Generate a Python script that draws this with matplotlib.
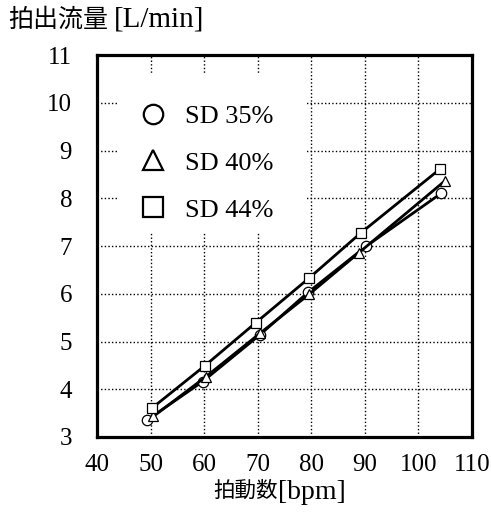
import matplotlib
matplotlib.use('Agg')
import matplotlib.pyplot as plt
from matplotlib.patches import Rectangle

# data
bpm_35 = [49.4, 59.7, 70.4, 79.4, 90.3, 104.2]
flow_35 = [3.36, 4.16, 5.14, 6.03, 7.00, 8.10]

bpm_40 = [50.5, 60.3, 70.4, 79.6, 88.9, 105.0]
flow_40 = [3.43, 4.26, 5.17, 5.99, 6.86, 8.37]

bpm_44 = [50.2, 60.1, 69.6, 79.6, 89.2, 104.0]
flow_44 = [3.60, 4.49, 5.39, 6.33, 7.27, 8.61]

series_labels = ['SD 35%', 'SD 40%', 'SD 44%']
x_ticks = [40, 50, 60, 70, 80, 90, 100, 110]
y_ticks = [3, 4, 5, 6, 7, 8, 9, 10, 11]

FONTS = ['Liberation Serif', 'Noto Sans CJK JP']
plt.rcParams['font.family'] = FONTS

fig = plt.figure(figsize=(4.91, 5.19), dpi=100)
ax = fig.add_axes([0.1976, 0.158, 0.7637, 0.736])

for xs, ys, mk, lab in [(bpm_35, flow_35, 'o', series_labels[0]),
                        (bpm_40, flow_40, '^', series_labels[1]),
                        (bpm_44, flow_44, 's', series_labels[2])]:
    ax.plot(xs, ys, color='black', linewidth=2.0, marker=mk, markersize=7.5,
            markerfacecolor='white', markeredgecolor='black',
            markeredgewidth=0.9, label=lab, zorder=3)

ax.set_xlim(40, 110)
ax.set_ylim(3, 11)
ax.set_xticks(x_ticks)
ax.set_yticks(y_ticks)
ax.grid(True, linestyle=(0, (1, 1.6)), color='black', linewidth=1.0)
ax.set_axisbelow(True)
ax.tick_params(axis='both', length=0, labelsize=18)
ax.tick_params(axis='x', pad=12)
ax.tick_params(axis='y', pad=18)
for s in ax.spines.values():
    s.set_linewidth(2.3)

# white patch behind the legend hides the grid there
ax.add_patch(Rectangle((0.059, 0.537), 0.501, 0.411, transform=ax.transAxes,
                       facecolor='white', edgecolor='none', zorder=1))

leg = ax.legend(loc='upper left', bbox_to_anchor=(0.115, 0.871), frameon=False,
                fontsize=19, handlelength=1.0, handletextpad=0.7,
                labelspacing=0.89, borderpad=0, borderaxespad=0)
for h in leg.legend_handles:
    h.set_linestyle('none')
    h.set_markersize(14)
    h.set_markeredgewidth(1.6)

# axis titles: Japanese part and bracketed unit drawn separately
fig.text(0.016, 0.962, '拍出流量', fontsize=18, ha='left', va='center')
fig.text(0.232, 0.962, '[L/min]', fontsize=21, ha='left', va='center')
fig.text(0.434, 0.052, '拍動数', fontsize=15.5, ha='left', va='center')
fig.text(0.566, 0.052, '[bpm]', fontsize=20, ha='left', va='center')

fig.savefig('out.png', dpi=100)
